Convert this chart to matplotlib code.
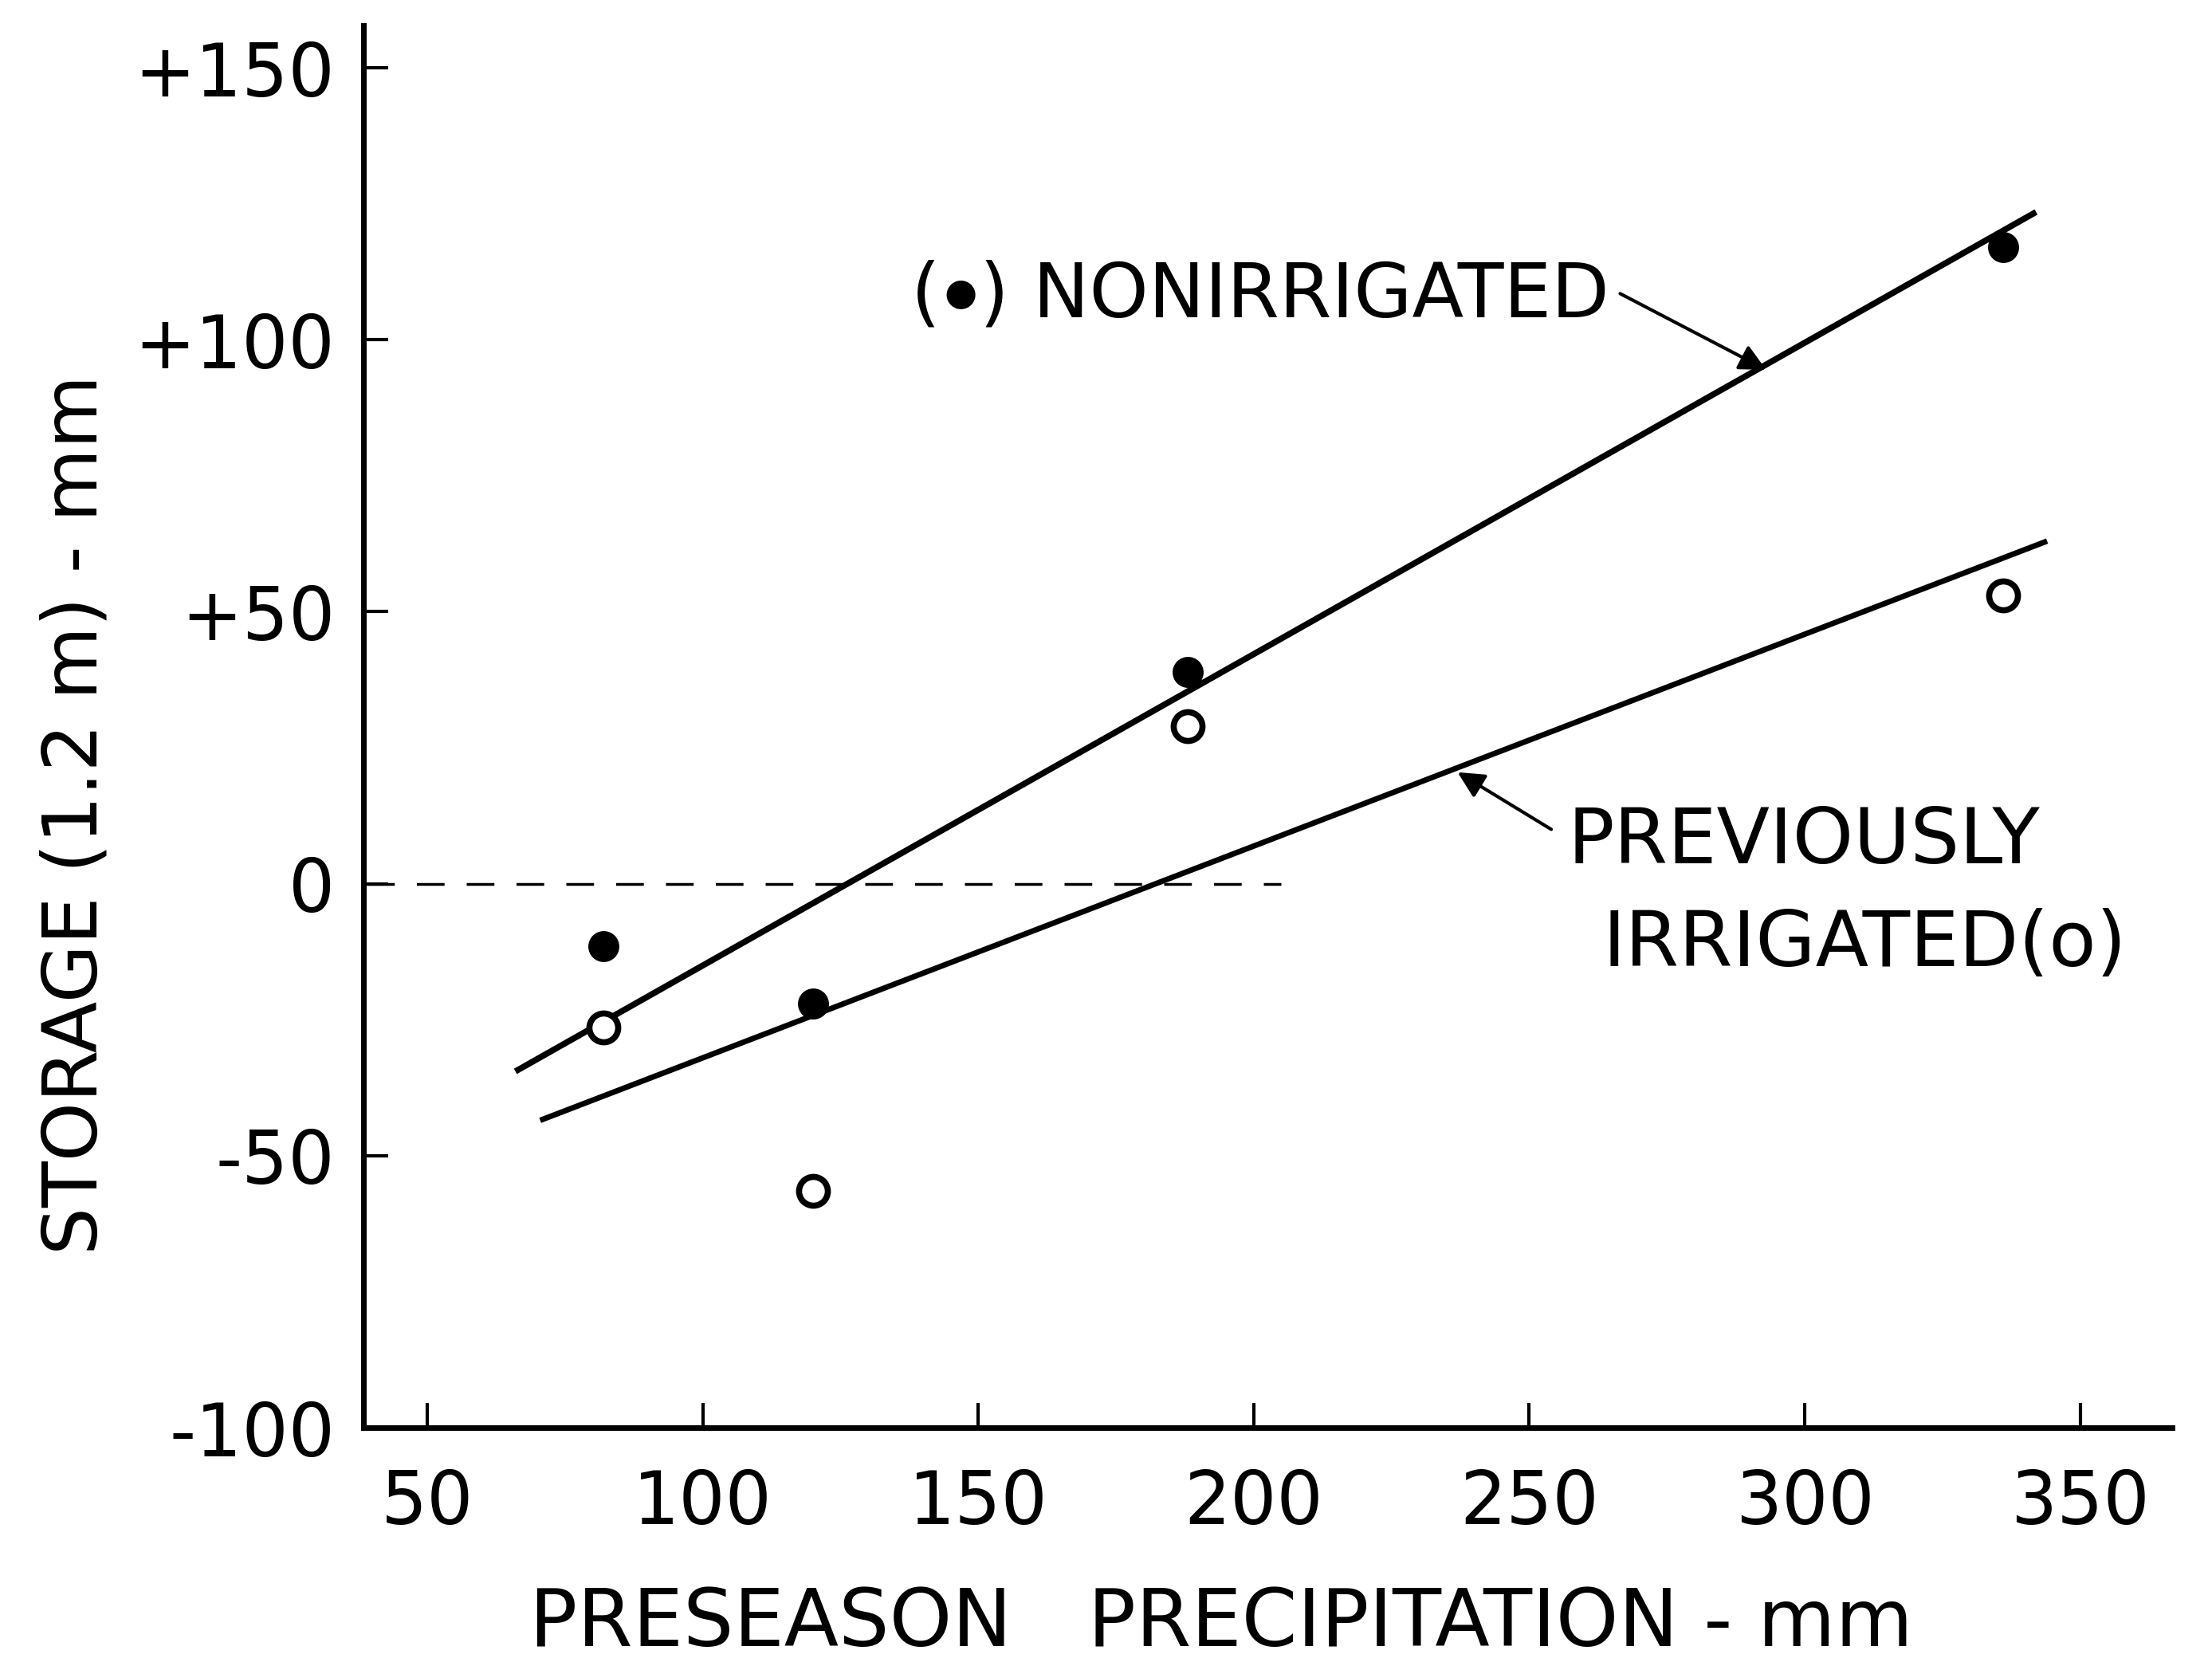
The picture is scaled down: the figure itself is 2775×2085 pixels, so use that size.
import matplotlib.pyplot as plt
import numpy as np

plt.rcParams['font.family'] = ['DejaVu Sans']

precip = [82, 120, 188, 336]
nonirrigated = [-11.5, -22, 39, 117]
prev_irrigated = [-26.5, -56.5, 29, 53]

# fitted lines (end points as drawn)
fit_non_x = [66, 342]
fit_non_y = [-34.5, 123.5]
fit_prev_x = [70.5, 344]
fit_prev_y = [-43.5, 63]

xticks = [50, 100, 150, 200, 250, 300, 350]
yticks = [-100, -50, 0, 50, 100, 150]
ytick_labels = ["-100", "-50", "0", "+50", "+100", "+150"]

fig = plt.figure(figsize=(27.75, 20.85), dpi=100)
ax = fig.add_axes([0.1645, 0.141, 0.8175, 0.8437])

ax.plot([39, 205], [0, 0], color="black", lw=2.5, ls=(0, (10, 8)))
ax.plot(fit_non_x, fit_non_y, color="black", lw=5.5, solid_capstyle="butt")
ax.plot(fit_prev_x, fit_prev_y, color="black", lw=5, solid_capstyle="butt")

ax.plot(precip, nonirrigated, "o", color="black", ms=27)
ax.plot(precip, prev_irrigated, "o", mfc="white", mec="black", mew=5.5, ms=26)

ax.set_xlim(38.5, 366.7)
ax.set_ylim(-100, 157.8)
ax.spines["top"].set_visible(False)
ax.spines["right"].set_visible(False)
ax.spines["left"].set_linewidth(5)
ax.spines["bottom"].set_linewidth(5)

ax.set_xticks(xticks)
ax.set_yticks(yticks)
ax.set_yticklabels(ytick_labels)
ax.tick_params(direction="in", length=22, width=3, labelsize=66, pad=26)
ax.tick_params(axis="x", pad=36)

ax.set_xlabel("PRESEASON   PRECIPITATION - mm", fontsize=72, va="center")
ax.xaxis.set_label_coords(0.474, -0.14)
ax.set_ylabel("STORAGE (1.2 m) - mm", fontsize=68, va="center")
ax.yaxis.set_label_coords(-0.159, 0.437)

arrow = dict(arrowstyle="-|>", color="black", lw=3, mutation_scale=50,
             shrinkA=0, shrinkB=0)

# label for the filled dots: "(" + bullet + ") NONIRRIGATED"
t1 = ax.text(264.6, 108, ") NONIRRIGATED", fontsize=68, ha="right", va="center")
t2 = ax.annotate("\u25cf", xy=(0, 0.5), xycoords=t1, xytext=(-3, 2),
                 textcoords="offset points", fontsize=34, ha="right", va="center")
ax.annotate("(", xy=(0, 0.5), xycoords=t1, xytext=(-36, 0),
            textcoords="offset points", fontsize=68, ha="right", va="center")
ax.annotate("", xy=(293, 94.5), xytext=(266.5, 108.5), arrowprops=arrow)

ax.annotate("", xy=(237, 20.5), xytext=(254, 10), arrowprops=arrow)
ax.text(256.9, 7.7, "PREVIOUSLY", fontsize=70, ha="left", va="center")
ax.text(263.3, -11.3, "IRRIGATED(o)", fontsize=70, ha="left", va="center")

fig.savefig("out.png", dpi=100)
